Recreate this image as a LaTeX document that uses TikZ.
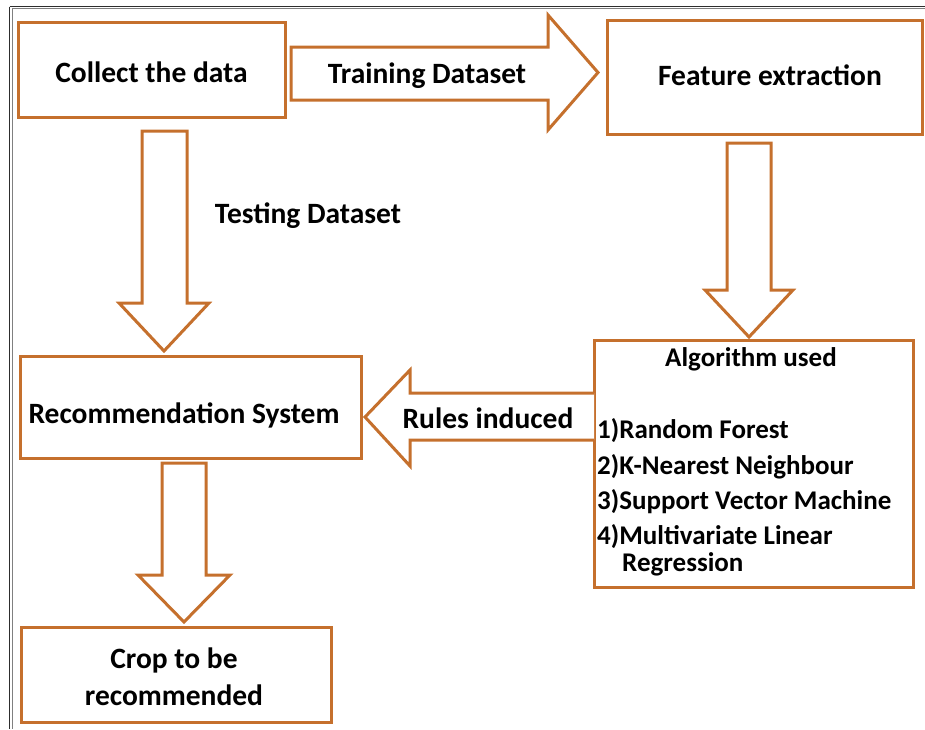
\documentclass[tikz,border=0pt]{standalone}
\usepackage{fontspec}
\setmainfont{Carlito}
\usetikzlibrary{calc}
\definecolor{orng}{RGB}{197,112,45}
\definecolor{frm}{RGB}{45,45,45}
\tikzset{
  box/.style={draw=orng, line width=3pt, fill=white},
  blk/.style={draw=orng, line width=3pt, fill=white, line join=miter},
  lbl/.style={font=\bfseries\fontsize{29.5}{35}\selectfont, inner sep=0pt, text=black, yshift=-2pt},
  lbls/.style={font=\bfseries\fontsize{27}{32}\selectfont, inner sep=0pt, text=black, yshift=-2pt},
}
\begin{document}
\begin{tikzpicture}[x=1pt,y=-1pt]
\useasboundingbox (0,0) rectangle (925,729);
% frame
\draw[frm, line width=1.6pt] (9.5,6.5) -- (925,6.5);
\draw[gray, line width=0.9pt] (12,8.6) -- (925,8.6);
\draw[frm, line width=1.6pt] (9.5,6.5) -- (9.5,729);
\draw[gray, line width=0.9pt] (12,8.6) -- (12,729);

% boxes
\draw[box] (18,22) rectangle (285,117);
\node[lbl] (collect) at (151.5,70.5) {Collect the data};
\draw[box] (607,20) rectangle (922,134);
\node[lbl] (feat) at (770,73) {Feature extraction};
\draw[box] (594,340) rectangle (913,587);
\node[lbls] (algo) at (751,357) {Algorithm used};
\node[lbls, anchor=west] (a1) at (597,429) {1)Random Forest};
\node[lbls, anchor=west] (a2) at (597,465) {2)K-Nearest Neighbour};
\node[lbls, anchor=west] (a3) at (597,500) {3)Support Vector Machine};
\node[lbls, anchor=west] (a4) at (597,535) {4)Multivariate Linear};
\node[lbls, anchor=west] (a5) at (622,562) {Regression};
\draw[box] (20,356) rectangle (361,458);
\node[lbl] (rec) at (184,413) {Recommendation System};
\draw[box] (21,627) rectangle (331,722);
\node[lbl, align=center] (crop) at (174,675) {Crop to be\\[2pt]recommended};

% block arrows
\coordinate (t1) at (598,72.5);
\draw[blk] (291,47) -- (548,47) -- (548,15) -- (t1) -- (548,130) -- (548,100) -- (291,100) -- cycle;
\node[lbl] (train) at (427,74) {Training Dataset};

\coordinate (t2) at (749,337);
\draw[blk] (727,143) -- (771,143) -- (771,290) -- (793,290) -- (t2) -- (705,290) -- (727,290) -- cycle;

\coordinate (t3) at (365,417);
\draw[blk] (594,393) -- (410,393) -- (410,370) -- (t3) -- (410,466) -- (410,440) -- (594,440);
\node[lbl] (rules) at (488,416) {Rules induced};

\coordinate (t4) at (164,351);
\draw[blk] (142,131) -- (187,131) -- (187,303) -- (209,303) -- (t4) -- (119,303) -- (142,303) -- cycle;
\node[lbl] (test) at (308,214) {Testing Dataset};

\coordinate (t5) at (184,622);
\draw[blk] (162,463) -- (206,463) -- (206,575) -- (230,575) -- (t5) -- (138,575) -- (162,575) -- cycle;
\end{tikzpicture}
\end{document}
